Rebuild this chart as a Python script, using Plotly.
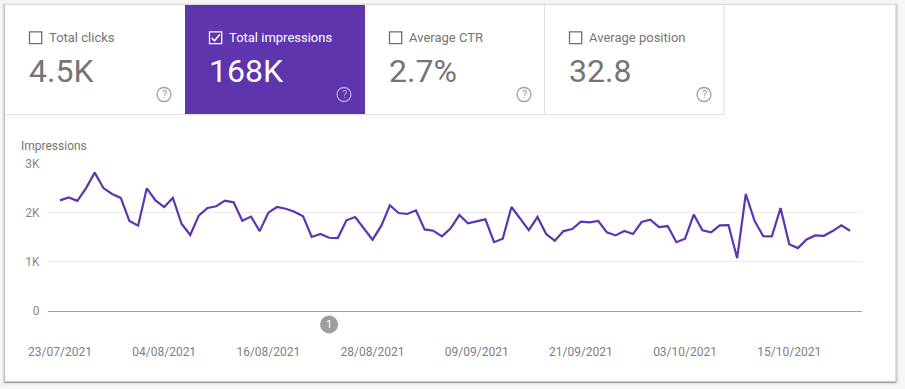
import pandas as pd
import plotly.graph_objects as go

W, H = 905, 389

start_date = "2021-07-23"
impressions = [
    2250, 2310, 2240, 2500, 2815, 2500, 2380, 2300, 1830, 1735, 2495, 2250, 2115, 2300, 1775, 1545,
    1945, 2095, 2130, 2245, 2210, 1835, 1920, 1625, 2000, 2115, 2080, 2020, 1925, 1505, 1565, 1490,
    1483, 1845, 1910, 1680, 1450, 1730, 2150, 1993, 1973, 2048, 1660, 1633, 1517, 1680, 1952, 1782,
    1823, 1864, 1400, 1470, 2115, 1878, 1646, 1911, 1565, 1430, 1626, 1667, 1816, 1803, 1830, 1600,
    1537, 1626, 1565, 1810, 1857, 1707, 1728, 1400, 1470, 1960, 1640, 1600, 1741, 1748, 1075, 2380,
    1837, 1524, 1517, 2095, 1360, 1279, 1456, 1537, 1530, 1626, 1741, 1633,
]
x_tick_dates = ["2021-07-23", "2021-08-04", "2021-08-16", "2021-08-28",
                "2021-09-09", "2021-09-21", "2021-10-03", "2021-10-15"]
y_tick_values = [0, 1000, 2000, 3000]
y_tick_labels = ["0", "1K", "2K", "3K"]
tile_titles = ["Total clicks", "Total impressions", "Average CTR", "Average position"]
tile_values = ["4.5K", "168K", "2.7%", "32.8"]
selected_tile = 1
annotation_date = "2021-08-23"
annotation_label = "1"
y_title = "Impressions"

PURPLE = "#5e35b1"
TILE_PURPLE = "#5e35ac"
GREY_TEXT = "#757575"
FONT = "Roboto"

dates = pd.date_range(start_date, periods=len(impressions), freq="D")


def px(x):
    return x / W


def py(y):
    return 1 - y / H


def rect(x0, y0, x1, y1, **kw):
    return dict(type="rect", xref="paper", yref="paper", x0=px(x0), x1=px(x1), y0=py(y0), y1=py(y1),
                layer="below", **kw)


def line(x0, y0, x1, y1, color, width=1):
    return dict(type="line", xref="paper", yref="paper", x0=px(x0), x1=px(x1), y0=py(y0), y1=py(y1),
                layer="below", line=dict(color=color, width=width))


def label(x, y, text, size, color, anchor="left"):
    return dict(xref="paper", yref="paper", x=px(x), y=py(y), text=text, showarrow=False,
                xanchor=anchor, yanchor="middle", font=dict(family=FONT, size=size, color=color),
                borderpad=0, borderwidth=0)


shapes, annotations = [], []

# card with a soft shadow, heavier along the lower edge
for grow, alpha in [(3, 0.04), (2, 0.07), (1, 0.12)]:
    shapes.append(rect(5 - grow, 5 - grow + 1, 895.5 + grow, 381.5 + grow,
                       fillcolor=f"rgba(0,0,0,{alpha})", line_width=0))
shapes.append(rect(5, 381, 895.5, 383, fillcolor="rgba(0,0,0,0.22)", line_width=0))
shapes.append(rect(5, 5, 895.5, 381.5, fillcolor="white", line_width=0))

# metric tiles
tile_w = 180
tile_x0 = 5
for i, (title, value) in enumerate(zip(tile_titles, tile_values)):
    left = tile_x0 + i * tile_w
    on = i == selected_tile
    if on:
        shapes.append(rect(left, 5, left + tile_w, 115, fillcolor=TILE_PURPLE, line_width=0))
    text_col = "white" if on else GREY_TEXT
    box_col = "white" if on else "#6f6f6f"
    shapes.append(rect(left + 24.5, 31.8, left + 36.7, 43.6, fillcolor="rgba(0,0,0,0)",
                       line=dict(color=box_col, width=1.3)))
    if on:
        a, b = left + 26.8, 38
        shapes.append(dict(type="path", xref="paper", yref="paper", layer="below",
                           path=f"M {px(a)} {py(b)} L {px(a + 2.6)} {py(b + 2.8)} L {px(a + 8)} {py(b - 3.4)}",
                           line=dict(color="white", width=1.5)))
    annotations.append(label(left + 44, 37.7, title, 13, text_col))
    annotations.append(label(left + 24, 70.8, value, 32, text_col))
    cx, cy = left + 159, 94.5
    help_col = "#b7a5dc" if on else "#9e9e9e"
    shapes.append(dict(type="circle", xref="paper", yref="paper", layer="below",
                       x0=px(cx - 7), x1=px(cx + 7), y0=py(cy + 7), y1=py(cy - 7),
                       line=dict(color=help_col, width=1.3)))
    annotations.append(label(cx, cy, "?", 11, help_col, "center"))

shapes.append(line(5, 114.5, 724, 114.5, "#e0e0e0"))
shapes.append(line(544.5, 5, 544.5, 115, "#e0e0e0"))
shapes.append(line(724, 5, 724, 115, "#e0e0e0"))

# chart title
annotations.append(label(21, 146, y_title, 12, GREY_TEXT))

fig = go.Figure(go.Scatter(x=dates, y=impressions, mode="lines", hoverinfo="skip",
                           line=dict(color=PURPLE, width=2.2, shape="linear"), showlegend=False))

# release marker below the axis
day_px = 8.68
marker_x = 60 + (pd.Timestamp(annotation_date) - dates[0]).days * day_px
shapes.append(dict(type="circle", xref="paper", yref="paper", layer="below",
                   x0=px(marker_x - 9), x1=px(marker_x + 9), y0=py(333.5), y1=py(315.5),
                   fillcolor="#9e9e9e", line_width=0))
annotations.append(label(marker_x, 324.7, annotation_label, 11, "white", "center"))

left_pad = pd.Timedelta(days=(60 - 48) / day_px)
right_pad = pd.Timedelta(days=(862 - 850) / day_px)

fig.update_layout(
    width=W, height=H, autosize=False,
    margin=dict(l=0, r=0, t=0, b=0, pad=0),
    paper_bgcolor="#f6f6f6", plot_bgcolor="rgba(0,0,0,0)",
    font=dict(family=FONT, size=12, color=GREY_TEXT),
    shapes=shapes, annotations=annotations,
    xaxis=dict(
        type="date", domain=[px(48), px(862)], anchor="y", automargin=False,
        range=[dates[0] - left_pad, dates[-1] + right_pad],
        tickmode="array", tickvals=x_tick_dates, tickformat="%d/%m/%Y",
        ticks="outside", ticklen=30, tickcolor="rgba(0,0,0,0)", tickwidth=1,
        tickfont=dict(family=FONT, size=12, color="#808080"),
        showgrid=False, zeroline=False, showline=True, linecolor="#9e9e9e", linewidth=1,
    ),
    yaxis=dict(
        domain=[py(311), py(163.5)], anchor="x", range=[0, 3000], automargin=False,
        tickmode="array", tickvals=y_tick_values, ticktext=y_tick_labels,
        ticks="outside", ticklen=5, tickcolor="rgba(0,0,0,0)",
        tickfont=dict(family=FONT, size=12, color="#8a8a8a"),
        showgrid=True, gridcolor="#ececec", gridwidth=1, zeroline=False, showline=False,
    ),
)

fig.write_html("out.html", config={"displayModeBar": False},
               post_script="document.body.style.margin='0';document.body.style.background='#f6f6f6';")
